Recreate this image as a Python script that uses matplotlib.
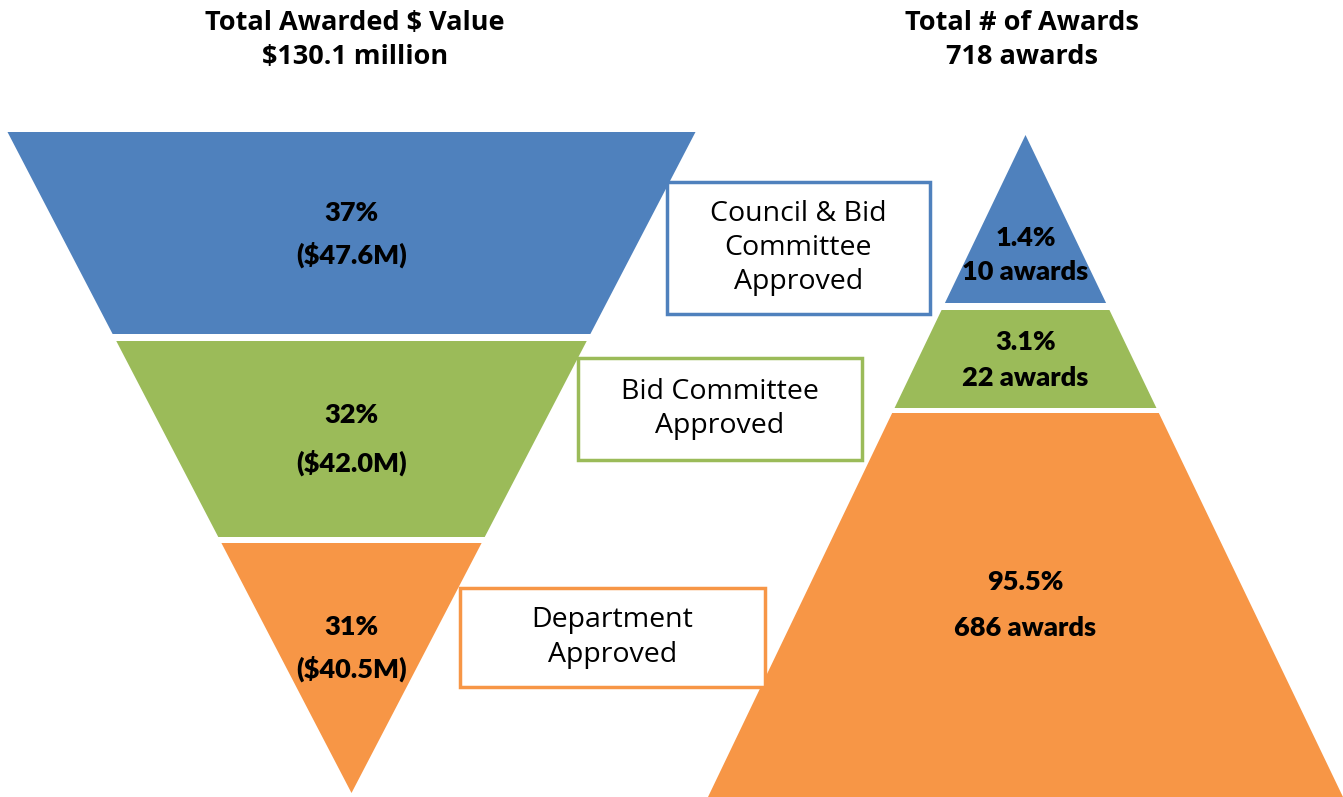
import matplotlib.pyplot as plt
from matplotlib.patches import Polygon, Rectangle

# stages, top to bottom
stages = ["Council & Bid\nCommittee\nApproved", "Bid Committee\nApproved", "Department\nApproved"]
colors = ["#4F81BD", "#9BBB59", "#F79646"]

# left funnel: share of awarded $ value
value_pct = ["37%", "32%", "31%"]
value_amt = ["($47.6M)", "($42.0M)", "($40.5M)"]
value_total = "$130.1 million"

# right pyramid: share of number of awards
count_pct = ["1.4%", "3.1%", "95.5%"]
count_n = [10, 22, 686]
count_total = 718

# layout (pixels, y down)
W, H = 1343, 797
fun_cx, fun_hw, fun_top, fun_apex = 351.5, 344, 132, 793
fun_bands = [(132, 334), (341, 537), (543, 793)]
pyr_cx, pyr_hw, pyr_apex, pyr_base = 1025.5, 317.5, 135, 797
pyr_bands = [(135, 303), (310, 408), (413, 797)]
boxes = [(667, 182, 263, 132), (578, 358, 284, 102), (460, 588, 305, 99)]

fig = plt.figure(figsize=(W / 100, H / 100), dpi=100)
ax = fig.add_axes([0, 0, 1, 1])
ax.set_xlim(0, W)
ax.set_ylim(H, 0)
ax.axis("off")

bold_font = ["Lato", "DejaVu Sans"]
box_font = ["Open Sans", "DejaVu Sans"]
lab = dict(ha="center", va="center", fontsize=19.5, fontweight="heavy",
           family=bold_font, zorder=3)


def fun_hw_at(y):
    return fun_hw * (fun_apex - y) / (fun_apex - fun_top)


def pyr_hw_at(y):
    return pyr_hw * (y - pyr_apex) / (pyr_base - pyr_apex)


for i, (y0, y1) in enumerate(fun_bands):
    a, b = fun_hw_at(y0), fun_hw_at(y1)
    pts = [(fun_cx - a, y0), (fun_cx + a, y0), (fun_cx + b, y1), (fun_cx - b, y1)]
    ax.add_patch(Polygon(pts, closed=True, color=colors[i], lw=0, zorder=1))

for i, (y0, y1) in enumerate(pyr_bands):
    a, b = pyr_hw_at(y0), pyr_hw_at(y1)
    pts = [(pyr_cx - a, y0), (pyr_cx + a, y0), (pyr_cx + b, y1), (pyr_cx - b, y1)]
    ax.add_patch(Polygon(pts, closed=True, color=colors[i], lw=0, zorder=1))

# funnel labels
fun_label_y = [(213, 255), (415, 463), (627, 669)]
for i in range(3):
    ya, yb = fun_label_y[i]
    ax.text(fun_cx, ya, value_pct[i], **lab)
    ax.text(fun_cx, yb, value_amt[i], **lab)

# pyramid labels
pyr_label_y = [(238, 272), (342, 378), (582, 628)]
for i in range(3):
    ya, yb = pyr_label_y[i]
    ax.text(pyr_cx, ya, count_pct[i], **lab)
    ax.text(pyr_cx, yb, f"{count_n[i]} awards", **lab)

# stage boxes
for i, (x, y, w, h) in enumerate(boxes):
    ax.add_patch(Rectangle((x, y), w, h, facecolor="white", edgecolor=colors[i],
                           lw=2.5, zorder=2))
    ax.text(x + w / 2, y + h / 2, stages[i], ha="center", va="center",
            fontsize=20.5, family=box_font, linespacing=1.3, zorder=3)

# titles
title_kw = dict(ha="center", va="center", fontsize=19.5, fontweight="bold",
                family=["Open Sans", "DejaVu Sans"], linespacing=1.38)
ax.text(355, 40, "Total Awarded $ Value\n" + value_total, **title_kw)
ax.text(1022, 40, f"Total # of Awards\n{count_total} awards", **title_kw)

fig.savefig("out.png", dpi=100)
